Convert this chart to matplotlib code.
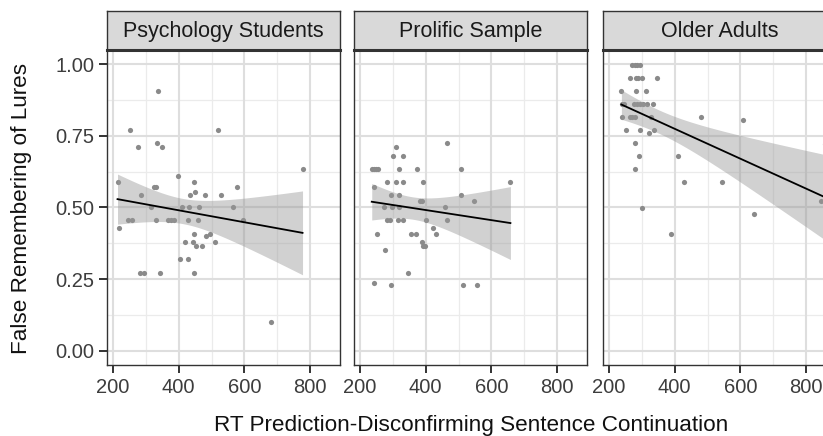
import numpy as np
import matplotlib
matplotlib.use("Agg")
import matplotlib.pyplot as plt

plt.rcParams['font.family'] = ['Liberation Sans', 'DejaVu Sans']

panels = ["Psychology Students", "Prolific Sample", "Older Adults"]

psych_x = [336, 253, 520, 275, 335, 350, 777, 214, 398, 447, 324, 332, 578, 284, 434, 451,
           480, 530, 317, 409, 430, 462, 566, 245, 258, 332, 367, 378, 385, 428, 458, 595,
           217, 447, 484, 494, 418, 444, 510, 453, 471, 405, 427, 281, 294, 344, 447, 681]
psych_y = [0.907, 0.771, 0.771, 0.713, 0.726, 0.713, 0.635, 0.590, 0.609, 0.590, 0.571, 0.571,
           0.571, 0.545, 0.545, 0.555, 0.545, 0.545, 0.500, 0.500, 0.500, 0.500, 0.500, 0.455,
           0.455, 0.455, 0.455, 0.455, 0.455, 0.455, 0.455, 0.455, 0.428, 0.409, 0.400, 0.409,
           0.381, 0.381, 0.381, 0.364, 0.364, 0.319, 0.319, 0.273, 0.273, 0.273, 0.273, 0.101]

prolific_x = [309, 465, 302, 332, 236, 242, 248, 254, 319, 373, 509, 282, 309, 332, 393, 658,
              242, 295, 319, 509, 382, 390, 547, 274, 297, 319, 458, 282, 291, 316, 331, 402,
              465, 422, 253, 356, 372, 430, 390, 392, 398, 276, 346, 243, 295, 514, 556]
prolific_y = [0.713, 0.726, 0.680, 0.680, 0.635, 0.635, 0.635, 0.635, 0.635, 0.635, 0.635, 0.590,
              0.590, 0.590, 0.590, 0.590, 0.571, 0.545, 0.545, 0.545, 0.523, 0.523, 0.523, 0.500,
              0.500, 0.500, 0.500, 0.455, 0.455, 0.455, 0.455, 0.455, 0.455, 0.428, 0.409, 0.409,
              0.409, 0.409, 0.381, 0.364, 0.364, 0.350, 0.273, 0.238, 0.228, 0.228, 0.228]

older_x = [271, 278, 285, 294, 264, 281, 288, 300, 347, 238, 282, 313, 239, 247, 277, 286,
           296, 303, 317, 333, 241, 264, 271, 279, 329, 479, 609, 252, 295, 338, 321, 280,
           293, 409, 278, 427, 545, 302, 844, 643, 388, 859]
older_y = [0.997, 0.997, 0.997, 0.997, 0.951, 0.951, 0.951, 0.951, 0.951, 0.906, 0.906, 0.906,
           0.862, 0.862, 0.862, 0.862, 0.862, 0.862, 0.862, 0.862, 0.815, 0.815, 0.815, 0.815,
           0.815, 0.815, 0.807, 0.771, 0.771, 0.771, 0.759, 0.726, 0.680, 0.680, 0.635, 0.590,
           0.590, 0.499, 0.522, 0.476, 0.408, 0.720]

series = [(psych_x, psych_y), (prolific_x, prolific_y), (older_x, older_y)]

x_ticks = [200, 400, 600, 800]
y_ticks = [0.00, 0.25, 0.50, 0.75, 1.00]
y_ticklabels = ["0.00", "0.25", "0.50", "0.75", "1.00"]
x_label = "RT Prediction-Disconfirming Sentence Continuation"
y_label = "False Remembering of Lures"

W, H = 823, 436
fig = plt.figure(figsize=(W / 100, H / 100), dpi=100)


def px_axes(left, right, top, bottom):
    return fig.add_axes([left / W, 1 - bottom / H, (right - left) / W, (bottom - top) / H])


def t975(df):
    z = 1.959964
    return z + (z**3 + z) / (4 * df) + (5 * z**5 + 16 * z**3 + 3 * z) / (96 * df**2)


lefts = [107, 354, 603]
pw = 233
top, bottom = 50, 365
strip_top = 11
grid_major = '#dedede'
grid_minor = '#ebebeb'
border = '#333333'

for i, (name, (xs, ys)) in enumerate(zip(panels, series)):
    l = lefts[i]
    ax = px_axes(l, l + pw, top, bottom)
    ax.set_xlim(182, 891)
    ax.set_ylim(-0.05, 1.05)
    for v in [300, 500, 700]:
        ax.axvline(v, color=grid_minor, lw=0.9, zorder=0)
    for v in [0.125, 0.375, 0.625, 0.875]:
        ax.axhline(v, color=grid_minor, lw=0.9, zorder=0)
    for v in x_ticks:
        ax.axvline(v, color=grid_major, lw=1.5, zorder=0)
    for v in y_ticks:
        ax.axhline(v, color=grid_major, lw=1.5, zorder=0)

    x = np.array(xs, float)
    y = np.array(ys, float)
    ax.scatter(x, y, s=14, color='#8a8a8a', linewidths=0, zorder=2)

    n = len(x)
    b1, b0 = np.polyfit(x, y, 1)
    res = y - (b0 + b1 * x)
    s = np.sqrt(np.sum(res**2) / (n - 2))
    xm = x.mean()
    sxx = np.sum((x - xm) ** 2)
    xx = np.linspace(x.min(), x.max(), 80)
    yy = b0 + b1 * xx
    se = s * np.sqrt(1 / n + (xx - xm) ** 2 / sxx)
    t = t975(n - 2)
    ax.fill_between(xx, yy - t * se, yy + t * se, color='#999999', alpha=0.45,
                    linewidth=0, zorder=3)
    ax.plot(xx, yy, color='black', lw=1.3, zorder=4)

    ax.set_xticks(x_ticks)
    ax.set_xticklabels([str(v) for v in x_ticks])
    ax.set_yticks(y_ticks)
    if i == 0:
        ax.set_yticklabels(y_ticklabels)
    else:
        ax.tick_params(axis='y', left=False, labelleft=False)
    ax.tick_params(axis='both', length=6, width=1.4, color=border, labelsize=14.5,
                   labelcolor='#3d3d3d', pad=3)
    for sp in ax.spines.values():
        sp.set_color(border)
        sp.set_linewidth(1.0)

    sax = px_axes(l, l + pw, strip_top, top)
    sax.set_facecolor('#d9d9d9')
    sax.set_xticks([])
    sax.set_yticks([])
    for sp in sax.spines.values():
        sp.set_color(border)
        sp.set_linewidth(1.0)
    sax.spines['bottom'].set_linewidth(2.2)
    sax.text(0.5, 0.47, name, ha='center', va='center', fontsize=15.5, color='#1a1a1a',
             transform=sax.transAxes)

fig.text(471.5 / W, 1 - 425 / H, x_label, ha='center', va='center', fontsize=16.2,
         color='#111111')
fig.text(22 / W, 1 - 208 / H, y_label, ha='center', va='center', rotation=90,
         fontsize=16.2, color='#111111')

fig.savefig('out.png', dpi=100)
